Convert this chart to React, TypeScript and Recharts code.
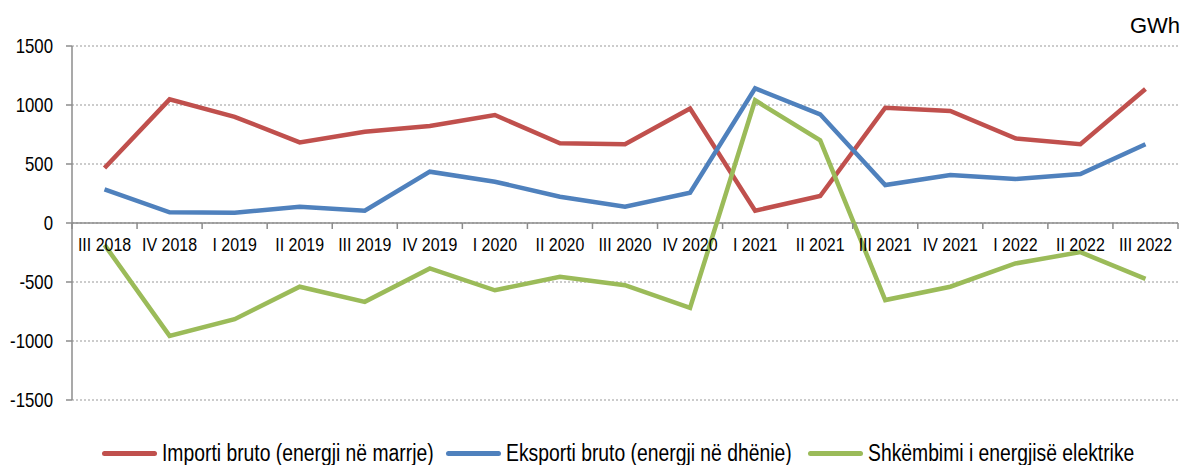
import { LineChart, Line, XAxis, YAxis, CartesianGrid, ReferenceLine } from 'recharts';

const quarters = [
  'III 2018', 'IV 2018', 'I 2019', 'II 2019', 'III 2019', 'IV 2019', 'I 2020', 'II 2020', 'III 2020',
  'IV 2020', 'I 2021', 'II 2021', 'III 2021', 'IV 2021', 'I 2022', 'II 2022', 'III 2022',
];
const importi = [466, 1048, 900, 683, 773, 822, 915, 675, 667, 971, 104, 229, 977, 949, 717, 667, 1135];
const eksporti = [285, 91, 87, 138, 104, 435, 350, 223, 138, 257, 1141, 921, 322, 407, 373, 415, 667];
const shkembimi = [-185, -957, -815, -540, -668, -385, -570, -455, -527, -720, 1040, 700, -653, -540, -343, -247, -473];
const yTicks = [-1500, -1000, -500, 0, 500, 1000, 1500];

const seriesNames = {
  importi: 'Importi bruto (energji në marrje)',
  eksporti: 'Eksporti bruto (energji në dhënie)',
  shkembimi: 'Shkëmbimi i energjisë elektrike',
};

const data = quarters.map((q, i) => ({
  name: q,
  importi: importi[i],
  eksporti: eksporti[i],
  shkembimi: shkembimi[i],
}));

const RED = '#C0504D';
const BLUE = '#4F81BD';
const GREEN = '#9BBB59';
const AXIS = '#8c8c8c';
const FONT = "'Liberation Sans', Arial, sans-serif";
const SQUEEZE = 0.84; // shkronjat e origjinalit janë të ngushta

const W = 1184;
const H = 465;
const TOP = 46;
const LEFT = 72;
const RIGHT = 6;
const BOTTOM = 65;
const ZERO_Y = TOP + (H - TOP - BOTTOM) / 2;
const BAND = (W - LEFT - RIGHT) / quarters.length;

// etiketat e boshtit x vendosen mbi vijën e zeros
function XTick(props: any) {
  const { x, payload, index } = props;
  const half = BAND / 2;
  return (
    <g>
      <line x1={x - half} x2={x - half} y1={ZERO_Y} y2={ZERO_Y + 6} stroke={AXIS} strokeWidth={1.5} />
      {index === quarters.length - 1 && (
        <line x1={x + half} x2={x + half} y1={ZERO_Y} y2={ZERO_Y + 6} stroke={AXIS} strokeWidth={1.5} />
      )}
      <text transform={`translate(${x},${ZERO_Y + 28}) scale(${SQUEEZE},1)`} textAnchor="middle" fontSize={19} fontFamily={FONT} fill="#000">
        {payload.value}
      </text>
    </g>
  );
}

function YTick(props: any) {
  const { y, payload } = props;
  return (
    <text transform={`translate(53,${y}) scale(${SQUEEZE},1)`} dy="0.36em" textAnchor="end" fontSize={20} fontFamily={FONT} fill="#000">
      {payload.value}
    </text>
  );
}

const legendItems = [
  { key: 'importi', color: RED, left: 102 },
  { key: 'eksporti', color: BLUE, left: 446 },
  { key: 'shkembimi', color: GREEN, left: 808 },
];

function LegendRow() {
  return (
    <>
      {legendItems.map((it) => (
        <div key={it.key} style={{ position: 'absolute', left: it.left, top: 440, display: 'flex', alignItems: 'center', fontFamily: FONT, fontSize: 23, color: '#000', whiteSpace: 'nowrap' }}>
          <span style={{ display: 'inline-block', width: 55, height: 5, borderRadius: 3, background: it.color, marginRight: 5 }} />
          <span style={{ display: 'inline-block', transform: `scaleX(${SQUEEZE})`, transformOrigin: 'left center' }}>
            {seriesNames[it.key as keyof typeof seriesNames]}
          </span>
        </div>
      ))}
    </>
  );
}

export default function App() {
  return (
    <div style={{ position: 'absolute', left: 0, top: 0, width: W, height: H, background: '#fff', overflow: 'hidden' }}>
      <LineChart width={W} height={H} data={data} margin={{ top: TOP, right: RIGHT, left: 0, bottom: 0 }}>
        <CartesianGrid vertical={false} stroke="#999" strokeDasharray="2 2" />
        <XAxis
          dataKey="name"
          height={BOTTOM}
          axisLine={false}
          tickLine={false}
          interval={0}
          padding={{ left: BAND / 2, right: BAND / 2 }}
          tick={<XTick />}
        />
        <YAxis
          width={LEFT}
          domain={[-1500, 1500]}
          ticks={yTicks}
          interval={0}
          axisLine={{ stroke: AXIS, strokeWidth: 1.5 }}
          tickLine={{ stroke: AXIS, strokeWidth: 1.5 }}
          tickSize={6}
          tick={<YTick />}
        />
        <ReferenceLine y={0} stroke={AXIS} strokeWidth={1.5} />
        <Line type="linear" dataKey="importi" stroke={RED} strokeWidth={4.5} dot={false} isAnimationActive={false} />
        <Line type="linear" dataKey="eksporti" stroke={BLUE} strokeWidth={4.5} dot={false} isAnimationActive={false} />
        <Line type="linear" dataKey="shkembimi" stroke={GREEN} strokeWidth={4.5} dot={false} isAnimationActive={false} />
      </LineChart>
      <div style={{ position: 'absolute', right: 4, top: 13, fontFamily: FONT, fontSize: 22, color: '#000' }}>GWh</div>
      <LegendRow />
    </div>
  );
}
